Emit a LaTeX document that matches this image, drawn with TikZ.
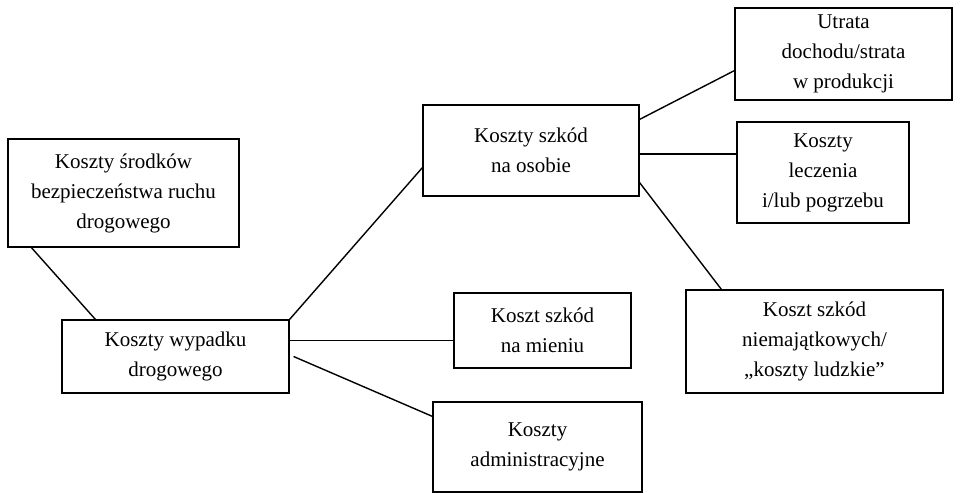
\documentclass[tikz,border=0pt]{standalone}
\usepackage{fontspec}
\setmainfont{Liberation Serif}
\usepackage{tikz}
\usetikzlibrary{positioning}
\tikzset{
  % A plain cost box, text centred
  costbox/.style n args={2}{
    draw=black, fill=white, rectangle, align=center, line width=1.2pt,
    font=\fontsize{21}{30}\selectfont, inner sep=0pt,
    minimum width=#1, minimum height=#2},
  % Connectors between boxes
  link/.style={draw=black, line width=1.4pt},
}

\begin{document}
\begin{tikzpicture}[x=1pt, y=-1pt]

  \useasboundingbox (0,0) rectangle (962,493);

  \node[costbox={231pt}{108pt}] (srodki) at (123.5,193)
        {Koszty środków\\bezpieczeństwa ruchu\\drogowego};
  \node[costbox={227pt}{73pt}] (wypadek) at (175.5,356.5)
        {Koszty wypadku\\drogowego};
  \node[costbox={216pt}{91pt}] (osoba) at (531,150.5)
        {Koszty szkód\\na osobie};
  \node[costbox={217pt}{92pt}] (dochod) at (843.5,54)
        {Utrata\\dochodu/strata\\w produkcji};
  \node[costbox={172pt}{101pt}] (leczenie) at (823,172.5)
        {Koszty\\leczenia\\i/lub pogrzebu};
  \node[costbox={257pt}{103pt}] (ludzkie) at (814.5,341.5)
        {Koszt szkód\\niemajątkowych/\\„koszty ludzkie”};
  \node[costbox={177pt}{75pt}] (mienie) at (542.5,330.5)
        {Koszt szkód\\na mieniu};
  \node[costbox={209pt}{90pt}] (admin) at (537.5,447)
        {Koszty\\administracyjne};

  \draw[link] ([xshift=24pt]srodki.south west) -- ([xshift=34pt]wypadek.north west);
  \draw[link] (wypadek.north east) -- ([yshift=29pt]osoba.south west);
  \draw[link] ([yshift=-21pt]wypadek.north east) -- ([yshift=-48pt]mienie.north west);
  \draw[link] ([xshift=4pt]wypadek.east) -- ([yshift=-15pt]admin.north west);

  \draw[link] ([yshift=-15pt]osoba.north east) -- ([yshift=30pt]dochod.south west);
  \draw[link] ([yshift=-3.5pt]osoba.east) -- ([yshift=18.5pt]leczenie.west);
  \draw[link] ([yshift=14pt]osoba.south east) -- ([xshift=36pt]ludzkie.north west);

\end{tikzpicture}
\end{document}
